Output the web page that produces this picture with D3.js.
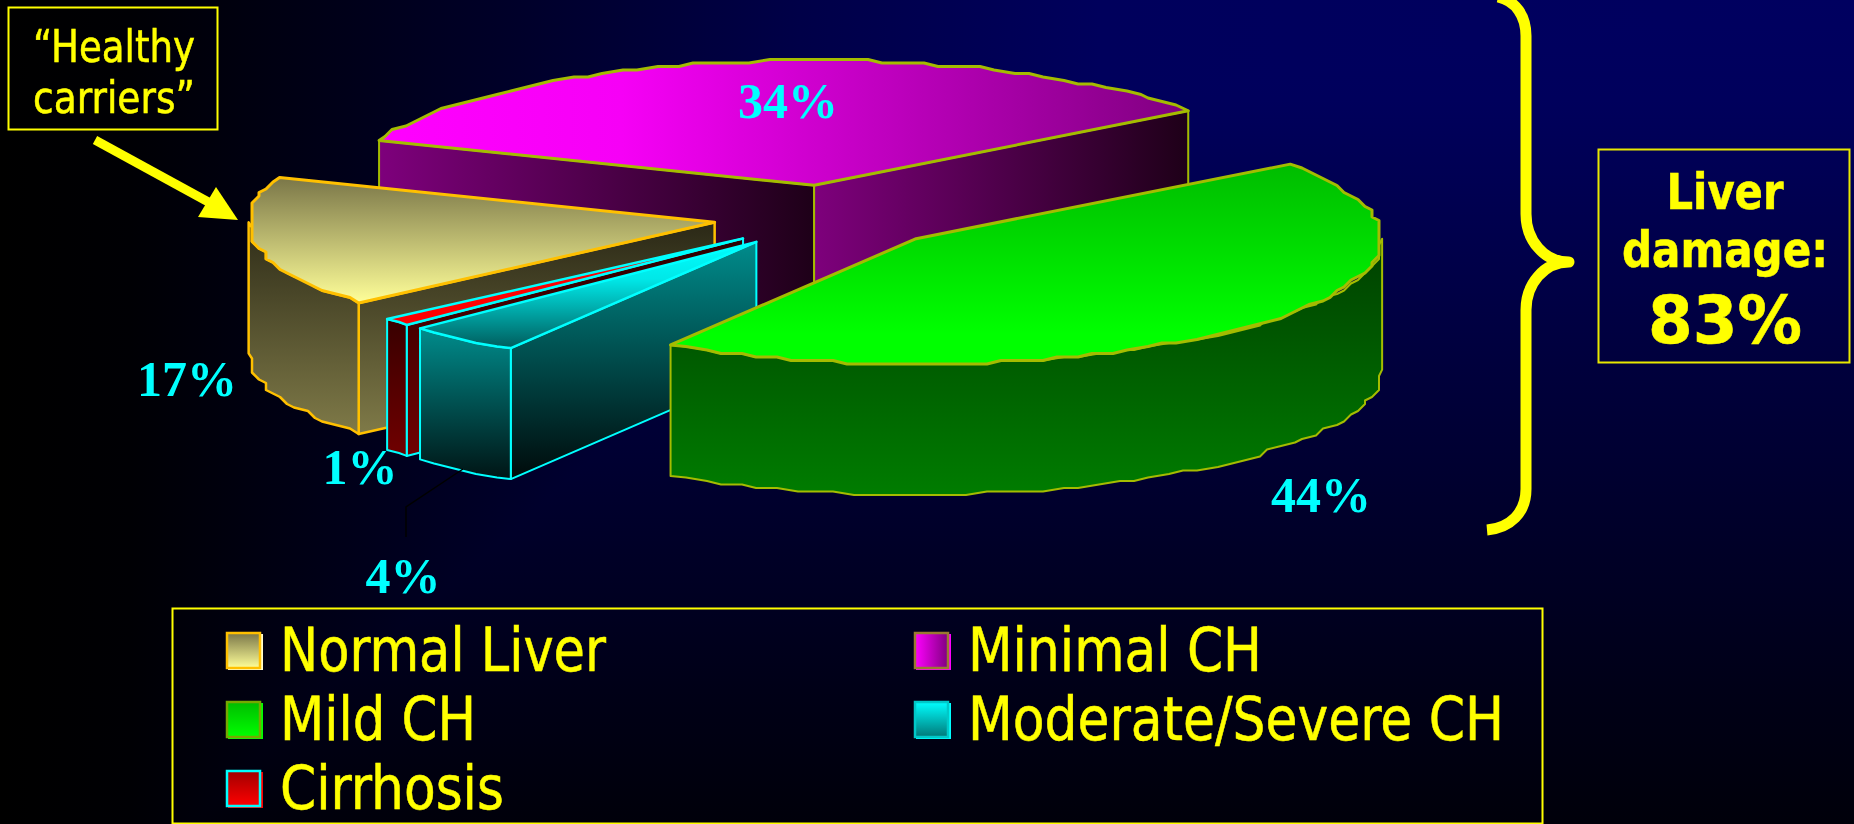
<!DOCTYPE html>
<html>
<head>
<meta charset="utf-8">
<style>
  html, body { margin: 0; padding: 0; background: #000; overflow: hidden; }
  svg { display: block; }
  .ui { font-family: "DejaVu Sans Condensed", "DejaVu Sans", sans-serif; fill: #ffff00; stroke: #ffff00; stroke-width: 0.5px; }
  .pct { font-family: "Liberation Serif", serif; font-weight: bold; font-size: 50px; fill: #00ffff; text-anchor: middle; }
</style>
<script src="https://cdnjs.cloudflare.com/ajax/libs/d3/7.8.5/d3.min.js"></script>
</head>
<body>
<script>
// Slices clockwise from the back left
var categories = ["Minimal CH", "Mild CH", "Moderate/Severe CH", "Cirrhosis", "Normal Liver"];
var values = [34, 44, 4, 1, 17];
var valueLabels = ["34%", "44%", "4%", "1%", "17%"];
var paintOrder = ["Minimal CH", "Normal Liver", "Cirrhosis", "Moderate/Severe CH", "Mild CH"];
var legendOrder = ["Normal Liver", "Minimal CH", "Mild CH", "Moderate/Severe CH", "Cirrhosis"];
var legendWidths = [326, 294, 196, 536, 224];
var damaged = ["Minimal CH", "Mild CH", "Moderate/Severe CH", "Cirrhosis"];

// Background ramps, [position in px, colour]
var bgAcross = [[0, "#000000"], [130, "#000004"], [500, "#000028"], [800, "#000048"], [1100, "#00005c"], [1854, "#000060"]];
var bgDown = [[0, "#000060"], [100, "#00005c"], [370, "#00003c"], [560, "#000026"], [700, "#000016"], [824, "#00000a"]];

var w = 1854;
var h = 824;

// Pie projection
var cx = 830, cy = 217;
var rx = 466, ry = 125;
var depth = 131;
var explodeX = 117, explodeY = 32;
var startDeg = -69;

var styles = {
  "Minimal CH": {
    stroke: "#a4bc00", topW: 3, sideW: 2,
    top: { dir: "h", stops: [[0, "#ff00ff"], [0.3, "#f600f6"], [1, "#800080"]] },
    wall: { dir: "h", stops: [[0, "#7e007c"], [1, "#1e0018"]] },
    side: { dir: "v", stops: [[0, "#7e007c"], [1, "#1e0018"]] },
    swatch: { dir: "h", stops: [[0, "#ff00ff"], [1, "#800080"]] }, swatchStroke: "#9a7a30", swatchBack: "#ff00ff"
  },
  "Mild CH": {
    stroke: "#a4bc00", topW: 3, sideW: 2,
    top: { dir: "v", stops: [[0, "#00bc00"], [0.85, "#00ff00"], [1, "#00ff00"]] },
    wall: { dir: "v", stops: [[0, "#004400"], [1, "#007c00"]] },
    side: { dir: "v", stops: [[0, "#004000"], [1, "#007c00"]] },
    swatch: { dir: "v", stops: [[0, "#00bc00"], [1, "#00ff00"]] }, swatchStroke: "#76a800", swatchBack: "#00ff00"
  },
  "Moderate/Severe CH": {
    stroke: "#00ffff", topW: 2.5, sideW: 2,
    top: { dir: "v", stops: [[0, "#00ffff"], [0.35, "#00e8e8"], [1, "#005c5c"]] },
    wall: { dir: "v", stops: [[0, "#008c8c"], [1, "#000a0a"]] },
    side: { dir: "v", stops: [[0, "#008c8c"], [1, "#001414"]] },
    swatch: { dir: "v", stops: [[0, "#00ffff"], [1, "#007878"]] }, swatchStroke: "#00c8c8", swatchBack: "#00ffff"
  },
  "Cirrhosis": {
    stroke: "#00ffff", topW: 2.5, sideW: 2,
    top: { dir: "v", stops: [[0, "#ff0000"], [1, "#ff0000"]] },
    wall: { dir: "v", stops: [[0, "#2c0000"], [1, "#700000"]] },
    side: { dir: "v", stops: [[0, "#380000"], [1, "#700000"]] },
    swatch: { dir: "v", stops: [[0, "#a00000"], [1, "#ff0000"]] }, swatchStroke: "#00ffff", swatchBack: "#ff0000"
  },
  "Normal Liver": {
    stroke: "#ffc000", topW: 3, sideW: 2.5,
    top: { dir: "v", stops: [[0, "#7a7648"], [1, "#ffff99"]] },
    wall: { dir: "v", stops: [[0, "#2a2816"], [1, "#7f7a48"]] },
    side: { dir: "v", stops: [[0, "#2e2c18"], [1, "#7f7a48"]] },
    swatch: { dir: "v", stops: [[0, "#7a7648"], [1, "#ffff99"]] }, swatchStroke: "#ffc000", swatchBack: "#ffffd0"
  }
};

var svg = d3.select("body")
  .append("svg")
  .attr("width", w)
  .attr("height", h);

var defs = svg.append("defs");

function addGradient(id, spec) {
  var g = defs.append("linearGradient")
    .attr("id", id)
    .attr("x1", 0).attr("y1", 0)
    .attr("x2", spec.dir === "h" ? 1 : 0)
    .attr("y2", spec.dir === "h" ? 0 : 1);
  spec.stops.forEach(function(s) {
    g.append("stop").attr("offset", s[0]).attr("stop-color", s[1]);
  });
  return "url(#" + id + ")";
}

// Background: the darker of a left-right and a top-bottom ramp, navy only at the top right
function ramp(stops, size) {
  return stops.map(function(s) { return [s[0] / size, s[1]]; });
}
svg.append("rect")
  .attr("width", w)
  .attr("height", h)
  .attr("fill", addGradient("bgAcross", { dir: "h", stops: ramp(bgAcross, w) }));
svg.append("rect")
  .attr("width", w)
  .attr("height", h)
  .attr("fill", addGradient("bgDown", { dir: "v", stops: ramp(bgDown, h) }))
  .style("mix-blend-mode", "darken");

var pie = d3.pie()
  .sort(null)
  .startAngle(startDeg * Math.PI / 180)
  .endAngle(startDeg * Math.PI / 180 + 2 * Math.PI);

var slices = pie(values).map(function(d, i) {
  var mid = (d.startAngle + d.endAngle) / 2;
  return {
    name: categories[i],
    a0: d.startAngle,
    a1: d.endAngle,
    apex: [cx + explodeX * Math.sin(mid), cy - explodeY * Math.cos(mid)]
  };
});

function rim(s, a) {
  return [s.apex[0] + rx * Math.sin(a), s.apex[1] - ry * Math.cos(a)];
}

function drop(p) {
  return [p[0], p[1] + depth];
}

// Rim as a coarse stepped outline, snapped to a pixel grid
function rimPoints(s, a0, a1) {
  var step = 2.4 * Math.PI / 180;
  var n = Math.max(1, Math.ceil((a1 - a0) / step));
  return d3.range(n + 1).map(function(i) {
    var p = rim(s, a0 + (a1 - a0) * i / n);
    if (i === 0 || i === n) return p;
    return [Math.round(p[0] / 7) * 7, Math.round(p[1] / 3.5) * 3.5];
  });
}

var line = d3.line();

function poly(g, pts, fill, stroke, width) {
  g.append("path")
    .attr("d", line(pts) + "Z")
    .attr("fill", fill)
    .attr("stroke", stroke)
    .attr("stroke-width", width)
    .attr("stroke-linejoin", "round");
}

var pieGroup = svg.append("g");

paintOrder.forEach(function(name, i) {
  var s = slices[categories.indexOf(name)];
  var st = styles[s.name];
  var g = pieGroup.append("g");
  var id = "s" + i;
  var topFill = addGradient(id + "top", st.top);
  var wallFill = addGradient(id + "wall", st.wall);
  var sideFill = addGradient(id + "side", st.side);

  // Cut walls, only those turned towards the viewer
  if (Math.sin(s.a0) < 0) {
    var p0 = rim(s, s.a0);
    poly(g, [s.apex, p0, drop(p0), drop(s.apex)], wallFill, st.stroke, st.sideW);
  }
  if (Math.sin(s.a1) > 0) {
    var p1 = rim(s, s.a1);
    poly(g, [s.apex, p1, drop(p1), drop(s.apex)], wallFill, st.stroke, st.sideW);
  }

  // Outer wall, the part of the rim on the front half
  var from = Math.max(s.a0, Math.PI / 2);
  var to = Math.min(s.a1, 3 * Math.PI / 2);
  if (to > from) {
    var up = rimPoints(s, from, to);
    poly(g, up.concat(up.map(drop).reverse()), sideFill, st.stroke, st.sideW);
  }

  // Top face
  poly(g, [s.apex].concat(rimPoints(s, s.a0, s.a1)), topFill, st.stroke, st.topW);
});

// Leader from the 4% slice to its label
svg.append("path")
  .attr("d", "M463,469L406,507L406,537")
  .attr("fill", "none")
  .attr("stroke", "#000")
  .attr("stroke-width", 1.5);

// Percent labels
var labelPos = {
  "34%": [788, 118],
  "44%": [1321, 512],
  "4%": [403, 593],
  "1%": [360, 484],
  "17%": [187, 396]
};
svg.selectAll("text.pct")
  .data(valueLabels)
  .enter()
  .append("text")
  .attr("class", "pct")
  .attr("x", function(d) { return labelPos[d][0]; })
  .attr("y", function(d) { return labelPos[d][1]; })
  .attr("textLength", function(d) { return d.length === 2 ? 75 : 100; })
  .attr("lengthAdjust", "spacingAndGlyphs")
  .text(function(d) { return d; });

// Healthy carriers callout
svg.append("rect")
  .attr("x", 8.5).attr("y", 7.5)
  .attr("width", 209).attr("height", 122)
  .attr("fill", "none")
  .attr("stroke", "#ffff00")
  .attr("stroke-width", 2);

var calloutLines = ["\u201cHealthy", "carriers\u201d"];
svg.selectAll("text.callout")
  .data(calloutLines)
  .enter()
  .append("text")
  .attr("class", "ui callout")
  .attr("x", 114)
  .attr("y", function(d, i) { return 62 + i * 51; })
  .attr("text-anchor", "middle")
  .attr("font-size", 44)
  .attr("textLength", 162)
  .attr("lengthAdjust", "spacingAndGlyphs")
  .text(function(d) { return d; });

svg.append("line")
  .attr("x1", 95).attr("y1", 140)
  .attr("x2", 212).attr("y2", 204)
  .attr("stroke", "#ffff00")
  .attr("stroke-width", 9);
svg.append("path")
  .attr("d", line([[238, 220], [216, 187], [198, 217]]) + "Z")
  .attr("fill", "#ffff00");

// Brace around the damaged slices
svg.append("path")
  .attr("d", "M1498,-3C1516,1 1526,16 1526,36L1526,214C1526,240 1544,262 1569,262" +
             "C1544,262 1526,284 1526,310L1526,489C1526,513 1510,528 1487,530")
  .attr("fill", "none")
  .attr("stroke", "#ffff00")
  .attr("stroke-width", 11)
  .attr("stroke-linecap", "butt")
  .attr("stroke-linejoin", "round");

svg.append("rect")
  .attr("x", 1598.5).attr("y", 149.5)
  .attr("width", 251).attr("height", 213)
  .attr("fill", "none")
  .attr("stroke", "#e8e800")
  .attr("stroke-width", 2);

var damageTotal = d3.sum(damaged, function(n) { return values[categories.indexOf(n)]; });
var damageLines = [
  { text: "Liver", y: 209, size: 50, width: 117 },
  { text: "damage:", y: 267, size: 50, width: 206 },
  { text: damageTotal + "%", y: 343, size: 66, width: 154 }
];
svg.selectAll("text.damage")
  .data(damageLines)
  .enter()
  .append("text")
  .attr("class", "ui damage")
  .attr("x", 1725)
  .attr("y", function(d) { return d.y; })
  .attr("text-anchor", "middle")
  .attr("font-weight", "bold")
  .attr("font-size", function(d) { return d.size; })
  .attr("textLength", function(d) { return d.width; })
  .attr("lengthAdjust", "spacingAndGlyphs")
  .text(function(d) { return d.text; });

// Legend
svg.append("rect")
  .attr("x", 172.5).attr("y", 608.5)
  .attr("width", 1370).attr("height", 215)
  .attr("fill", "none")
  .attr("stroke", "#ffff00")
  .attr("stroke-width", 2);

var col = d3.scaleOrdinal().domain([0, 1]).range([226, 914]);
var row = d3.scalePoint().domain([0, 1, 2]).range([669, 807]);

var legend = svg.selectAll("g.legend")
  .data(legendOrder)
  .enter()
  .append("g")
  .attr("class", "legend")
  .attr("transform", function(d, i) {
    return "translate(" + col(i % 2) + "," + row(Math.floor(i / 2)) + ")";
  });

legend.append("rect")
  .attr("x", 2).attr("y", -35)
  .attr("width", 35).attr("height", 36)
  .attr("fill", function(d) { return styles[d].swatchBack; });
legend.append("rect")
  .attr("x", 1).attr("y", -36)
  .attr("width", 33).attr("height", 35)
  .attr("fill", function(d) { return addGradient("lg" + categories.indexOf(d), styles[d].swatch); })
  .attr("stroke", function(d) { return styles[d].swatchStroke; })
  .attr("stroke-width", 2.5);

legend.append("text")
  .attr("class", "ui")
  .attr("x", 54)
  .attr("y", 2)
  .attr("font-size", 60)
  .attr("textLength", function(d, i) { return legendWidths[i]; })
  .attr("lengthAdjust", "spacingAndGlyphs")
  .text(function(d) { return d; });
</script>
</body>
</html>
